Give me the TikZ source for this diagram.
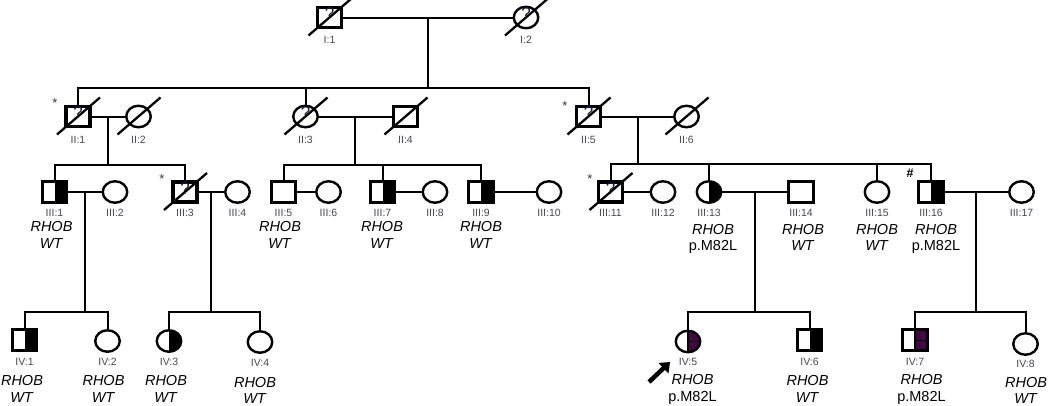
\documentclass[tikz,border=0pt]{standalone}
\usepackage{fontspec}
\setmainfont{Liberation Sans}
\usetikzlibrary{shapes.geometric,arrows.meta,calc}
\definecolor{purp}{RGB}{66,10,66}
\definecolor{idgray}{RGB}{70,70,82}
\definecolor{qblue}{RGB}{25,25,70}
\definecolor{stargray}{RGB}{55,55,80}
\begin{document}
\begin{tikzpicture}[x=1pt,y=-1pt,
  conn/.style={line width=2pt},
  male/.style={draw, rectangle, minimum width=24.5pt, minimum height=20.5pt, inner sep=0pt, line width=2.6pt},
  female/.style={draw, ellipse, minimum width=24.5pt, minimum height=21.5pt, inner sep=0pt, line width=2.4pt},
  thickb/.style={line width=3.8pt, minimum width=24pt, minimum height=20pt},
  halfblack/.style={path picture={\fill[black] (path picture bounding box.north) rectangle (path picture bounding box.south east);}},
  halfpurple/.style={path picture={\fill[purp] (path picture bounding box.north) rectangle (path picture bounding box.south east);
      \draw[line width=0.9pt] (path picture bounding box.center) -- (path picture bounding box.east);
      \draw[line width=1.2pt] (path picture bounding box.north) -- (path picture bounding box.south);}},
  slash/.style={line width=2.3pt},
  qm/.style={font=\fontsize{17}{18}\selectfont, text=qblue, inner sep=0pt},
  idl/.style={font=\fontsize{10.5}{12}\selectfont, text=idgray, inner sep=0pt},
  geno/.style={font=\fontsize{14.5}{16.5}\selectfont, align=center, inner sep=0pt, anchor=north},
  starmark/.style={font=\fontsize{13}{14}\selectfont, text=stargray, inner sep=0pt},
]
\useasboundingbox (0,0) rectangle (1050,405);

% ---------- Generation I
\node[male,thickb] (I1) at (329.5,17.5) {};
\node[female] (I2) at (526,17.5) {};
% ---------- Generation II
\node[male,thickb] (II1) at (78,116.5) {};
\node[female] (II2) at (138.5,116.5) {};
\node[female] (II3) at (305.5,116.5) {};
\node[male,thickb] (II4) at (405.5,116.5) {};
\node[male,thickb] (II5) at (588.5,116.5) {};
\node[female] (II6) at (686.5,116.5) {};
% ---------- Generation III
\node[male,halfblack] (III1) at (54.5,192) {};
\node[female] (III2) at (115,192) {};
\node[male,thickb] (III3) at (185,192) {};
\node[female] (III4) at (237.5,192) {};
\node[male] (III5) at (283.5,192) {};
\node[female] (III6) at (328.5,192) {};
\node[male,halfblack] (III7) at (382.5,192) {};
\node[female] (III8) at (435,192) {};
\node[male,halfblack] (III9) at (481,192) {};
\node[female] (III10) at (549,192) {};
\node[male,thickb] (III11) at (610.5,192) {};
\node[female] (III12) at (663,192) {};
\node[female,halfblack] (III13) at (709,192) {};
\node[male] (III14) at (801,192) {};
\node[female] (III15) at (877,192) {};
\node[male,halfblack] (III16) at (931,192) {};
\node[female] (III17) at (1021.5,192) {};
% ---------- Generation IV
\node[male,halfblack] (IV1) at (24.5,340) {};
\node[female] (IV2) at (107.5,341) {};
\node[female,halfblack] (IV3) at (169,341) {};
\node[female] (IV4) at (260,342) {};
\node[female,halfpurple] (IV5) at (688,341.5) {};
\node[male,halfblack] (IV6) at (809.5,340) {};
\node[male,halfpurple] (IV7) at (915,340) {};
\node[female] (IV8) at (1025.5,344) {};

% ---------- deceased slashes
\foreach \n in {I1,I2,II1,II2,II3,II4,II5,II6,III3,III11}{
  \draw[slash] ([shift={(-21,18)}]\n.center) -- ([shift={(22,-19)}]\n.center);
}
% ---------- question marks
\foreach \n in {I1,I2,II1,II3,II5,III3,III11}{
  \node[qm] (q\n) at ([yshift=3.5pt]\n.center) {?};
}

% ---------- marriages and descent
\draw[conn] (I1.east) -- (I2.west);
\coordinate (mI) at ($(I1.east)!0.5!(I2.west)$);
\draw[conn] (mI) -- (mI |- 0,88);
\draw[conn] (II1.north) -- (II1.north |- 0,88) -- (II5.north |- 0,88) -- (II5.north);
\draw[conn] (II3.north) -- (II3.north |- 0,88);

\draw[conn] (II1.east) -- (II2.west);
\coordinate (mII1) at ($(II1.east)!0.5!(II2.west)$);
\draw[conn] (mII1) -- (mII1 |- 0,164.5);
\draw[conn] (III1.north) -- (III1.north |- 0,164.5) -- (III3.north |- 0,164.5) -- (III3.north);

\draw[conn] (II3.east) -- (II4.west);
\coordinate (mII3) at ($(II3.east)!0.5!(II4.west)$);
\draw[conn] (mII3) -- (mII3 |- 0,164.5);
\draw[conn] (III5.north) -- (III5.north |- 0,164.5) -- (III9.north |- 0,164.5) -- (III9.north);
\draw[conn] (III7.north) -- (III7.north |- 0,164.5);

\draw[conn] (II5.east) -- (II6.west);
\coordinate (mII5) at ($(II5.east)!0.5!(II6.west)$);
\draw[conn] (mII5) -- (mII5 |- 0,164);
\draw[conn] (III11.north) -- (III11.north |- 0,164) -- (III16.north |- 0,164) -- (III16.north);
\draw[conn] (III13.north) -- (III13.north |- 0,164);
\draw[conn] (III15.north) -- (III15.north |- 0,164);

\draw[conn] (III1.east) -- (III2.west);
\draw[conn] (III3.east) -- (III4.west);
\draw[conn] (III5.east) -- (III6.west);
\draw[conn] (III7.east) -- (III8.west);
\draw[conn] (III9.east) -- (III10.west);
\draw[conn] (III11.east) -- (III12.west);
\draw[conn] (III13.east) -- (III14.west);
\draw[conn] (III16.east) -- (III17.west);

\coordinate (mIII1) at ($(III1.east)!0.5!(III2.west)$);
\draw[conn] (mIII1) -- (mIII1 |- 0,312);
\draw[conn] (IV1.north) -- (IV1.north |- 0,312) -- (IV2.north |- 0,312) -- (IV2.north);

\coordinate (mIII3) at ($(III3.east)!0.5!(III4.west)$);
\draw[conn] (mIII3) -- (mIII3 |- 0,312);
\draw[conn] (IV3.north) -- (IV3.north |- 0,312) -- (IV4.north |- 0,312) -- (IV4.north);

\coordinate (mIII13) at ($(III13.east)!0.5!(III14.west)$);
\draw[conn] (mIII13) -- (mIII13 |- 0,312);
\draw[conn] (IV5.north) -- (IV5.north |- 0,312) -- (IV6.north |- 0,312) -- (IV6.north);

\coordinate (mIII16) at ($(III16.east)!0.5!(III17.west)$);
\draw[conn] (mIII16) -- (mIII16 |- 0,312);
\draw[conn] (IV7.north) -- (IV7.north |- 0,312) -- (IV8.north |- 0,312) -- (IV8.north);

% ---------- ID labels
\node[idl] (lI1) at (329.5,40) {I:1};
\node[idl] (lI2) at (526,40) {I:2};
\node[idl] (lII1) at (78,140) {II:1};
\node[idl] (lII2) at (138.5,140) {II:2};
\node[idl] (lII3) at (305.5,140) {II:3};
\node[idl] (lII4) at (405.5,140) {II:4};
\node[idl] (lII5) at (588.5,140) {II:5};
\node[idl] (lII6) at (686.5,140) {II:6};
\foreach \n/\t in {III1/III:1,III2/III:2,III3/III:3,III4/III:4,III5/III:5,III6/III:6,III7/III:7,III8/III:8,III9/III:9,III10/III:10,III11/III:11,III12/III:12,III13/III:13,III14/III:14,III15/III:15,III16/III:16,III17/III:17}{
  \node[idl] (l\n) at (\n.center |- 0,213) {\t};
}
\foreach \n/\t in {IV1/IV:1,IV2/IV:2,IV3/IV:3,IV5/IV:5,IV6/IV:6,IV7/IV:7}{
  \node[idl] (l\n) at (\n.center |- 0,362) {\t};
}
\node[idl] (lIV4) at (260,363) {IV:4};
\node[idl] (lIV8) at (1025.5,363.5) {IV:8};

% ---------- genotypes
\node[geno] (gIII1) at (51.5,220) {\strut\textit{RHOB}\\\strut\textit{WT}};
\node[geno] (gIII5) at (280,220) {\strut\textit{RHOB}\\\strut\textit{WT}};
\node[geno] (gIII7) at (382,220) {\strut\textit{RHOB}\\\strut\textit{WT}};
\node[geno] (gIII9) at (481,220) {\strut\textit{RHOB}\\\strut\textit{WT}};
\node[geno] (gIII13) at (713,222.5) {\strut\textit{RHOB}\\\strut p.M82L};
\node[geno] (gIII14) at (803,222.5) {\strut\textit{RHOB}\\\strut\textit{WT}};
\node[geno] (gIII15) at (877,222.5) {\strut\textit{RHOB}\\\strut\textit{WT}};
\node[geno] (gIII16) at (936,222.5) {\strut\textit{RHOB}\\\strut p.M82L};
\node[geno] (gIV1) at (22,374) {\strut\textit{RHOB}\\\strut\textit{WT}};
\node[geno] (gIV2) at (103.5,374) {\strut\textit{RHOB}\\\strut\textit{WT}};
\node[geno] (gIV3) at (166,374) {\strut\textit{RHOB}\\\strut\textit{WT}};
\node[geno] (gIV4) at (255,375.5) {\strut\textit{RHOB}\\\strut\textit{WT}};
\node[geno] (gIV5) at (692.5,373) {\strut\textit{RHOB}\\\strut p.M82L};
\node[geno] (gIV6) at (807.5,374) {\strut\textit{RHOB}\\\strut\textit{WT}};
\node[geno] (gIV7) at (921.5,373) {\strut\textit{RHOB}\\\strut p.M82L};
\node[geno] (gIV8) at (1026,375.5) {\strut\textit{RHOB}\\\strut\textit{WT}};

% ---------- markers
\node[starmark] (sII1) at (55,103) {*};
\node[starmark] (sII5) at (565,106) {*};
\node[starmark] (sIII3) at (162,179) {*};
\node[starmark] (sIII11) at (590,179) {*};
\node[font=\fontsize{12.5}{13}\selectfont\bfseries, inner sep=0pt] (hIII16) at (910,173) {\#};

% ---------- proband arrow
\coordinate (arrtail) at (649,382);
\coordinate (arrtip) at (670,362);
\draw[line width=4.5pt, -{Triangle[length=9pt,width=14pt]}] (arrtail) -- (arrtip);
\end{tikzpicture}
\end{document}
